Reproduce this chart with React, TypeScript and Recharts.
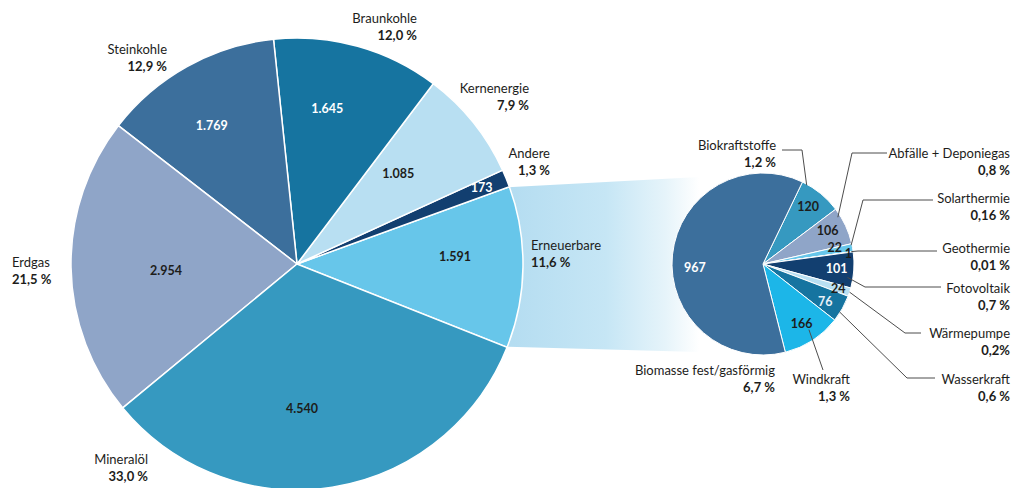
import { Cell, Pie, PieChart } from 'recharts'

// Primärenergieverbrauch (PJ) – Hauptkreis
const MAIN_NAMES = ['Erneuerbare', 'Andere', 'Kernenergie', 'Braunkohle', 'Steinkohle', 'Erdgas', 'Mineralöl']
const MAIN_VALUES = [1591, 173, 1085, 1645, 1769, 2954, 4540]
const MAIN_SHARES = ['11,6 %', '1,3 %', '7,9 %', '12,0 %', '12,9 %', '21,5 %', '33,0 %']

// Aufteilung der Erneuerbaren
const RE_NAMES = [
  'Biokraftstoffe',
  'Abfälle + Deponiegas',
  'Solarthermie',
  'Geothermie',
  'Fotovoltaik',
  'Wärmepumpe',
  'Wasserkraft',
  'Windkraft',
  'Biomasse fest/gasförmig',
]
const RE_VALUES = [120, 106, 22, 1, 101, 24, 76, 166, 967]
const RE_SHARES = ['1,2 %', '0,8 %', '0,16 %', '0,01 %', '0,7 %', '0,2%', '0,6 %', '1,3 %', '6,7 %']

const MAIN_COLORS = ['#67c6ea', '#123f70', '#b8dff2', '#1674a0', '#3c6f9c', '#8fa5c8', '#3699c0']
const MAIN_VALUE_INK = ['#1d1d1b', '#fff', '#1d1d1b', '#fff', '#fff', '#1d1d1b', '#1d1d1b']
const RE_COLORS = ['#3699c0', '#8fa5c8', '#67c6ea', '#dff1fa', '#123f70', '#b8dff2', '#1674a0', '#1cb6e8', '#3c6f9c']
const RE_VALUE_INK = ['#1d1d1b', '#1d1d1b', '#1d1d1b', '#1d1d1b', '#fff', '#1d1d1b', '#e8f1f8', '#1d1d1b', '#fff']

const W = 1012
const H = 488
const FONT = 'Lato, "Open Sans", sans-serif'
const INK = '#1d1d1b'
const LINE = '#4d4d4d'

const MAIN = { cx: 297, cy: 264, r: 226 }
const RE = { cx: 763, cy: 264, r: 91 }

const mainTotal = MAIN_VALUES.reduce((a, b) => a + b, 0)
// Erneuerbare sitzt rechts, Oberkante bei 20°
const MAIN_TOP_EDGE = 20
const mainStart = MAIN_TOP_EDGE - (MAIN_VALUES[0] / mainTotal) * 360
const RE_START = 64.3

// label layout (relative to pie centre)
const MAIN_LABEL_POS = [
  { dx: 234, dy: -19, anchor: 'start' },
  { dx: 253, dy: -111, anchor: 'end' },
  { dx: 232, dy: -176, anchor: 'end' },
  { dx: 120, dy: -246, anchor: 'end' },
  { dx: -130, dy: -215, anchor: 'end' },
  { dx: -285, dy: -2, anchor: 'start' },
  { dx: -149, dy: 195, anchor: 'end' },
]
const MAIN_VALUE_POS = [
  { rf: 0.7, da: 3.5 },
  { rf: 0.885, da: 0.3 },
  { rf: 0.6, da: 3 },
  { rf: 0.7, da: 4.5 },
  { rf: 0.72, da: 2.5 },
  { rf: 0.58, da: 2 },
  { rf: 0.64, da: -7 },
]
const RE_VALUE_POS = [
  { rf: 0.8, da: 1 },
  { rf: 0.8, da: 2.6 },
  { rf: 0.81, da: 2.6 },
  { rf: 0.945, da: -0.8 },
  { rf: 0.81, da: 0 },
  { rf: 0.87, da: 0 },
  { rf: 0.8, da: -2 },
  { rf: 0.78, da: 0 },
  { rf: 0.75, da: 8.75 },
]
// tx/ty: text, x1/ly: line start, ex: elbow, ea/er: where the line meets the slice
const RE_LABEL_POS = [
  { tx: 13, ty: -119, anchor: 'end', x1: 19, ly: -114, ex: 39, ea: 61, er: 0.99 },
  { tx: 247, ty: -111, anchor: 'end', x1: 124, ly: -111, ex: 89, ea: 32, er: 0.97 },
  { tx: 247, ty: -66, anchor: 'end', x1: 170, ly: -64, ex: 100, ea: 12, er: 0.99 },
  { tx: 247, ty: -16, anchor: 'end', x1: 174, ly: -13, ex: 95, ea: 8, er: 0.98 },
  { tx: 247, ty: 24, anchor: 'end', x1: 178, ly: 23, ex: 102, ea: -9, er: 0.94 },
  { tx: 247, ty: 69, anchor: 'end', x1: 158, ly: 69, ex: 142, ea: -18, er: 1.0 },
  { tx: 247, ty: 115, anchor: 'end', x1: 172, ly: 114, ex: 144, ea: -32, er: 0.99 },
  { tx: 87, ty: 115, anchor: 'end', x1: 60, ly: 106, ex: 60, ea: -55, er: 0.88 },
  { tx: 12, ty: 106, anchor: 'end', x1: 0, ly: 0, ex: 0, ea: 0, er: 0 },
]

const RAD = Math.PI / 180
const polar = (cx: number, cy: number, r: number, a: number) => ({
  x: cx + r * Math.cos(-a * RAD),
  y: cy + r * Math.sin(-a * RAD),
})
const fmt = (v: number) => String(v).replace(/\B(?=(\d{3})+(?!\d))/g, '.')

const mainData = MAIN_NAMES.map((name, i) => ({ name, value: MAIN_VALUES[i] }))
const reData = RE_NAMES.map((name, i) => ({ name, value: RE_VALUES[i] }))

function NameAndShare({ x, y, anchor, name, share }: any) {
  return (
    <>
      <text x={x} y={y} textAnchor={anchor} dominantBaseline="central" fill={INK} fontSize={13} fontFamily={FONT}>
        {name}
      </text>
      <text x={x} y={y + 16.5} textAnchor={anchor} dominantBaseline="central" fill={INK} fontSize={13} fontWeight={700} fontFamily={FONT}>
        {share}
      </text>
    </>
  )
}

function renderMainLabel(props: any) {
  const { cx, cy, midAngle, outerRadius, index } = props
  const vp = MAIN_VALUE_POS[index]
  const p = polar(cx, cy, outerRadius * vp.rf, midAngle + vp.da)
  const lp = MAIN_LABEL_POS[index]
  return (
    <g key={`main-label-${index}`}>
      <text x={p.x} y={p.y} textAnchor="middle" dominantBaseline="central" fill={MAIN_VALUE_INK[index]} fontSize={12.5} fontWeight={700} fontFamily={FONT}>
        {fmt(MAIN_VALUES[index])}
      </text>
      <NameAndShare x={cx + lp.dx} y={cy + lp.dy} anchor={lp.anchor} name={MAIN_NAMES[index]} share={MAIN_SHARES[index]} />
    </g>
  )
}

function renderReLabel(props: any) {
  const { cx, cy, midAngle, outerRadius, index } = props
  const vp = RE_VALUE_POS[index]
  const p = polar(cx, cy, outerRadius * vp.rf, midAngle + vp.da)
  const lp = RE_LABEL_POS[index]
  const end = polar(cx, cy, outerRadius * lp.er, lp.ea)
  const hasLine = lp.er > 0
  return (
    <g key={`re-label-${index}`}>
      {hasLine && (
        <polyline
          points={`${cx + lp.x1},${cy + lp.ly} ${cx + lp.ex},${cy + lp.ly} ${end.x},${end.y}`}
          fill="none"
          stroke={LINE}
          strokeWidth={1}
        />
      )}
      <text x={p.x} y={p.y} textAnchor="middle" dominantBaseline="central" fill={RE_VALUE_INK[index]} fontSize={12.5} fontWeight={700} fontFamily={FONT}>
        {fmt(RE_VALUES[index])}
      </text>
      <NameAndShare x={cx + lp.tx} y={cy + lp.ty} anchor={lp.anchor} name={RE_NAMES[index]} share={RE_SHARES[index]} />
    </g>
  )
}

function Band() {
  const top = polar(MAIN.cx, MAIN.cy, MAIN.r - 2, MAIN_TOP_EDGE)
  const bottom = polar(MAIN.cx, MAIN.cy, MAIN.r - 2, mainStart)
  const rx = RE.cx - RE.r * 0.7
  const pts = `${top.x},${top.y} ${rx},${RE.cy - RE.r + 4} ${rx},${RE.cy + RE.r - 3} ${bottom.x},${bottom.y}`
  return (
    <svg width={W} height={H} style={{ position: 'absolute', left: 0, top: 0 }}>
      <defs>
        <linearGradient id="band" gradientUnits="userSpaceOnUse" x1={MAIN.cx + MAIN.r - 10} y1={0} x2={rx} y2={0}>
          <stop offset="0" stopColor="#b5ddf1" />
          <stop offset="0.5" stopColor="#c6e6f5" />
          <stop offset="0.82" stopColor="#e6f4fa" />
          <stop offset="1" stopColor="#ffffff" />
        </linearGradient>
      </defs>
      <polygon points={pts} fill="url(#band)" />
    </svg>
  )
}

export default function App() {
  return (
    <div style={{ position: 'absolute', left: 0, top: 0, width: W, height: H, background: '#fff', overflow: 'hidden' }}>
      <Band />
      <div style={{ position: 'absolute', left: 0, top: 0 }}>
        <PieChart width={W} height={H} margin={{ top: 0, right: 0, bottom: 0, left: 0 }}>
          <Pie
            data={mainData}
            dataKey="value"
            nameKey="name"
            cx={MAIN.cx}
            cy={MAIN.cy}
            outerRadius={MAIN.r}
            startAngle={mainStart}
            endAngle={mainStart + 360}
            stroke="#fff"
            strokeWidth={1.5}
            label={renderMainLabel}
            labelLine={false}
            isAnimationActive={false}
          >
            {mainData.map((d, i) => (
              <Cell key={d.name} fill={MAIN_COLORS[i]} />
            ))}
          </Pie>
          <Pie
            data={reData}
            dataKey="value"
            nameKey="name"
            cx={RE.cx}
            cy={RE.cy}
            outerRadius={RE.r}
            startAngle={RE_START}
            endAngle={RE_START - 360}
            stroke="#fff"
            strokeWidth={1}
            label={renderReLabel}
            labelLine={false}
            isAnimationActive={false}
          >
            {reData.map((d, i) => (
              <Cell key={d.name} fill={RE_COLORS[i]} />
            ))}
          </Pie>
        </PieChart>
      </div>
    </div>
  )
}
